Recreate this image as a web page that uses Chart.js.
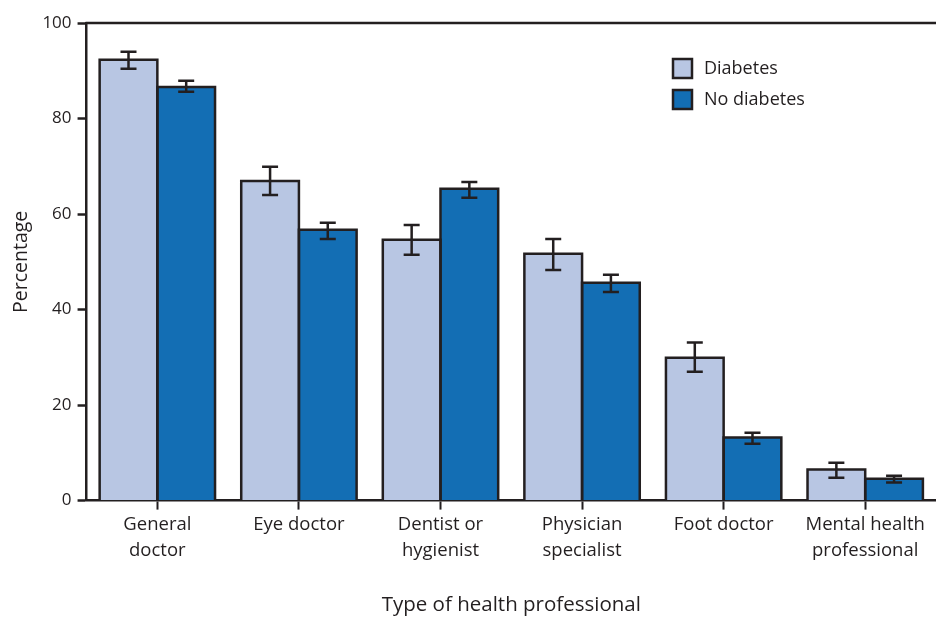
<!DOCTYPE html>
<html>
<head>
<meta charset="utf-8">
<script src="https://cdn.jsdelivr.net/npm/chart.js@4"></script>
<style>
  html, body { margin: 0; padding: 0; background: #fff; }
  #wrap { width: 936px; height: 617px; }
</style>
</head>
<body>
<div id="wrap"><canvas id="myChart" width="936" height="617"></canvas></div>
<script>
// data
const categories = [
    ['General', 'doctor'],
    ['Eye doctor'],
    ['Dentist or', 'hygienist'],
    ['Physician', 'specialist'],
    ['Foot doctor'],
    ['Mental health', 'professional']
];
const diabetes = [92.3, 66.9, 54.6, 51.7, 29.9, 6.5];
const diabetesLow = [90.4, 64.0, 51.5, 48.3, 27.0, 4.8];
const diabetesHigh = [94.0, 69.9, 57.7, 54.8, 33.1, 7.9];
const noDiabetes = [86.6, 56.7, 65.3, 45.6, 13.2, 4.6];
const noDiabetesLow = [85.6, 54.8, 63.4, 43.7, 11.9, 3.8];
const noDiabetesHigh = [87.9, 58.2, 66.7, 47.3, 14.2, 5.2];
const yTicks = [0, 20, 40, 60, 80, 100];

const ink = '#231f20';
const fontFam = '"Open Sans", "Liberation Sans", sans-serif';

// bar outlines, error bars, top border line and legend
const extras = {
    id: 'extras',
    afterDatasetsDraw(chart) {
        const ctx = chart.ctx;
        const y = chart.scales.y;
        const area = chart.chartArea;
        const ranges = [[diabetesLow, diabetesHigh], [noDiabetesLow, noDiabetesHigh]];
        ctx.save();
        ctx.strokeStyle = ink;
        ctx.lineWidth = 2.5;
        ctx.lineJoin = 'miter';
        // outlines
        [0, 1].forEach(function(di) {
            chart.getDatasetMeta(di).data.forEach(function(bar) {
                const p = bar.getProps(['x', 'y', 'base', 'width'], true);
                const l = p.x - p.width / 2, r = p.x + p.width / 2;
                ctx.beginPath();
                ctx.moveTo(l, p.base);
                ctx.lineTo(l, p.y);
                ctx.lineTo(r, p.y);
                ctx.lineTo(r, p.base);
                ctx.stroke();
            });
        });
        // error bars
        ranges.forEach(function(rg, di) {
            chart.getDatasetMeta(di).data.forEach(function(bar, i) {
                const x = bar.x;
                const yl = y.getPixelForValue(rg[0][i]);
                const yh = y.getPixelForValue(rg[1][i]);
                ctx.beginPath();
                ctx.moveTo(x, yl); ctx.lineTo(x, yh);
                ctx.moveTo(x - 8, yl); ctx.lineTo(x + 8, yl);
                ctx.moveTo(x - 8, yh); ctx.lineTo(x + 8, yh);
                ctx.stroke();
            });
        });
        // top frame line
        ctx.beginPath();
        ctx.moveTo(area.left - 1, area.top);
        ctx.lineTo(chart.width, area.top);
        ctx.stroke();
        // legend
        ctx.font = '18px ' + fontFam;
        ctx.textBaseline = 'middle';
        chart.data.datasets.forEach(function(ds, i) {
            const lx = 673, ly = 59 + i * 31;
            ctx.fillStyle = ds.backgroundColor;
            ctx.fillRect(lx, ly, 19, 19);
            ctx.strokeRect(lx, ly, 19, 19);
            ctx.fillStyle = ink;
            ctx.fillText(ds.label, lx + 31, ly + 10);
        });
        ctx.restore();
    }
};

const ctx = document.getElementById('myChart').getContext('2d');
const myChart = new Chart(ctx, {
    type: 'bar',
    data: {
        labels: categories,
        datasets: [{
            label: 'Diabetes',
            data: diabetes,
            backgroundColor: '#b8c6e3',
            borderWidth: 0
        }, {
            label: 'No diabetes',
            data: noDiabetes,
            backgroundColor: '#136eb4',
            borderWidth: 0
        }]
    },
    options: {
        responsive: false,
        animation: false,
        layout: { padding: { top: 23, right: 0, left: 10, bottom: 0 } },
        categoryPercentage: 0.815,
        barPercentage: 1.0,
        plugins: {
            legend: { display: false },
            tooltip: { enabled: false }
        },
        scales: {
            x: {
                grid: {
                    display: true,
                    drawOnChartArea: false,
                    drawTicks: true,
                    tickLength: 9,
                    tickWidth: 2,
                    tickColor: ink,
                    offset: false
                },
                border: { color: ink, width: 2.5 },
                ticks: {
                    color: ink,
                    font: { family: fontFam, size: 18.5, lineHeight: 1.4 },
                    padding: 2,
                    maxRotation: 0
                },
                title: {
                    display: true,
                    text: 'Type of health professional',
                    color: ink,
                    font: { family: fontFam, size: 20.5 },
                    padding: { top: 27, bottom: 0 }
                }
            },
            y: {
                min: 0,
                max: 100,
                afterBuildTicks: function(axis) {
                    axis.ticks = yTicks.map(function(v) { return { value: v }; });
                },
                grid: {
                    drawOnChartArea: false,
                    drawTicks: true,
                    tickLength: 9,
                    tickWidth: 2.5,
                    tickColor: ink
                },
                border: { color: ink, width: 2.5 },
                ticks: {
                    color: ink,
                    font: { family: fontFam, size: 17 },
                    padding: 6
                },
                title: {
                    display: true,
                    text: 'Percentage',
                    color: ink,
                    font: { family: fontFam, size: 19.5 },
                    padding: { top: 0, bottom: 3 }
                }
            }
        }
    },
    plugins: [extras]
});
</script>
</body>
</html>
